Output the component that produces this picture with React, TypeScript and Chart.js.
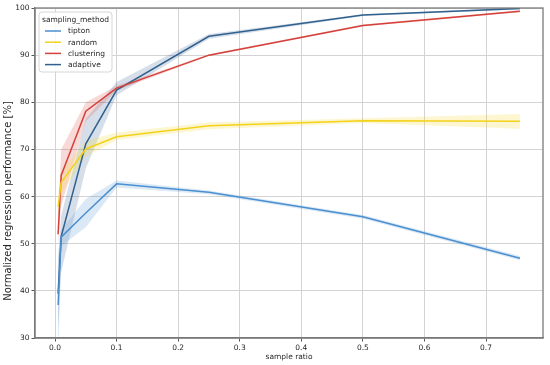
import React, { useEffect, useRef } from "react";
import { Chart, registerables } from "chart.js";

Chart.register(...registerables);

const sampleRatios = [0.005, 0.01, 0.05, 0.1, 0.25, 0.5, 0.755];
const xTickValues = [0, 0.1, 0.2, 0.3, 0.4, 0.5, 0.6, 0.7];
const yTickValues = [30, 40, 50, 60, 70, 80, 90, 100];

const methods = ["tipton", "random", "clustering", "adaptive"];
const methodColors = ["#4a8fd0", "#f3d21a", "#d5403b", "#30618f"];

const yTitle = "Normalized regression performance [%]";
const xTitle = "sample ratio";
const legendTitle = "sampling_method";

const tiptonMean = [37, 51.4, 56.5, 62.7, 60.9, 55.7, 46.9];
const tiptonLow = [24, 49.5, 53.5, 61.9, 60.5, 55.3, 46.5];
const tiptonHigh = [46, 53.0, 59.5, 63.4, 61.3, 56.1, 47.4];

const randomMean = [57.8, 63.0, 70.1, 72.7, 75.0, 76.1, 76.0];
const randomLow = [55, 60.5, 68.5, 72.0, 74.3, 75.6, 74.4];
const randomHigh = [60, 65.5, 71.8, 73.6, 75.7, 76.6, 77.5];

const clusteringMean = [52, 64.5, 78.1, 83.0, 90.0, 96.3, 99.3];
const clusteringLow = [50, 58, 76, 82.5, 89.8, 96.1, 99.1];
const clusteringHigh = [55, 70, 80, 83.5, 90.2, 96.5, 99.5];

const adaptiveMean = [39.4, 51.5, 71.2, 82.6, 94.0, 98.5, 99.9];
const adaptiveLow = [32, 44, 66, 81.5, 93.5, 98.3, 99.7];
const adaptiveHigh = [47, 56, 76.5, 84.3, 94.5, 98.7, 100.1];

const means = [tiptonMean, randomMean, clusteringMean, adaptiveMean];
const lows = [tiptonLow, randomLow, clusteringLow, adaptiveLow];
const highs = [tiptonHigh, randomHigh, clusteringHigh, adaptiveHigh];

const FONT = "'DejaVu Sans', sans-serif";

function hexA(hex: string, a: number) {
  const r = parseInt(hex.slice(1, 3), 16);
  const g = parseInt(hex.slice(3, 5), 16);
  const b = parseInt(hex.slice(5, 7), 16);
  return `rgba(${r},${g},${b},${a})`;
}

const pts = (ys: number[]) => sampleRatios.map((x, i) => ({ x, y: ys[i] }));

const framePlugin = {
  id: "frame",
  afterDatasetsDraw(chart: any) {
    const { ctx, chartArea: a } = chart;
    ctx.save();
    ctx.strokeStyle = "#7a7a7a";
    ctx.lineWidth = 1.3;
    ctx.strokeRect(a.left, a.top, a.right - a.left, a.bottom - a.top);
    ctx.restore();
  },
};

const yTitlePlugin = {
  id: "yTitle",
  afterDraw(chart: any) {
    const { ctx } = chart;
    ctx.save();
    ctx.translate(8, 201);
    ctx.rotate(-Math.PI / 2);
    ctx.font = `10px ${FONT}`;
    ctx.fillStyle = "#262626";
    ctx.textAlign = "center";
    ctx.textBaseline = "middle";
    ctx.fillText(yTitle, 0, 0);
    ctx.restore();
  },
};

const legendPlugin = {
  id: "mplLegend",
  afterDraw(chart: any) {
    const { ctx, chartArea: a } = chart;
    const x = a.left + 4;
    const y = a.top + 4;
    const w = 73;
    const h = 60;
    ctx.save();
    ctx.beginPath();
    ctx.roundRect(x, y, w, h, 3);
    ctx.fillStyle = "rgba(255,255,255,0.85)";
    ctx.fill();
    ctx.strokeStyle = "#d6d6d6";
    ctx.lineWidth = 1;
    ctx.stroke();
    ctx.font = `7.5px ${FONT}`;
    ctx.fillStyle = "#262626";
    ctx.textBaseline = "middle";
    ctx.textAlign = "center";
    ctx.fillText(legendTitle, x + w / 2, y + 8);
    ctx.textAlign = "left";
    methods.forEach((m, i) => {
      const ry = y + 19 + i * 11.2;
      ctx.strokeStyle = methodColors[i];
      ctx.lineWidth = 1.5;
      ctx.beginPath();
      ctx.moveTo(x + 6, ry);
      ctx.lineTo(x + 22, ry);
      ctx.stroke();
      ctx.fillStyle = "#262626";
      ctx.fillText(m, x + 29, ry + 0.5);
    });
    ctx.restore();
  },
};

export default function App() {
  const ref = useRef<HTMLCanvasElement>(null);
  useEffect(() => {
    document.body.style.margin = "0";
    const datasets: any[] = [];
    methods.forEach((m, i) => {
      datasets.push({
        label: m + "_low",
        data: pts(lows[i]),
        borderWidth: 0,
        pointRadius: 0,
        fill: false,
        order: 2,
      });
      datasets.push({
        label: m + "_high",
        data: pts(highs[i]),
        borderWidth: 0,
        pointRadius: 0,
        fill: "-1",
        backgroundColor: hexA(methodColors[i], 0.2),
        order: 2,
      });
    });
    methods.forEach((m, i) => {
      datasets.push({
        label: m,
        data: pts(means[i]),
        borderColor: methodColors[i],
        borderWidth: 1.5,
        pointRadius: 0,
        fill: false,
        order: 1,
      });
    });
    const chart = new Chart(ref.current!, {
      type: "line",
      data: { datasets },
      options: {
        animation: false,
        responsive: false,
        maintainAspectRatio: false,
        layout: { padding: { top: 8, right: 7, left: 0, bottom: 0 } },
        plugins: { legend: { display: false }, tooltip: { enabled: false } },
        scales: {
          x: {
            type: "linear",
            min: -0.0325,
            max: 0.7925,
            afterBuildTicks: (s: any) => {
              s.ticks = xTickValues.map((v) => ({ value: v }));
            },
            afterFit: (s: any) => {
              s.height = 27;
            },
            ticks: {
              font: { family: FONT, size: 7.5 },
              color: "#262626",
              padding: 2,
              callback: (v: any) => Number(v).toFixed(1),
            },
            grid: { color: "#d3d3d3", tickColor: "#555", tickLength: 3.5, lineWidth: 1 },
            border: { color: "#7a7a7a", width: 1.3 },
            title: {
              display: true,
              text: xTitle,
              font: { family: FONT, size: 7.5 },
              color: "#262626",
              padding: { top: 0, bottom: 3 },
            },
          },
          y: {
            min: 30,
            max: 100,
            afterBuildTicks: (s: any) => {
              s.ticks = yTickValues.map((v) => ({ value: v }));
            },
            afterFit: (s: any) => {
              s.width = 35;
            },
            ticks: {
              font: { family: FONT, size: 7.5 },
              color: "#262626",
              padding: 2,
            },
            grid: { color: "#d3d3d3", tickColor: "#555", tickLength: 3.5, lineWidth: 1 },
            border: { color: "#7a7a7a", width: 1.3 },
            title: { display: false },
          },
        },
      },
      plugins: [framePlugin, yTitlePlugin, legendPlugin],
    });
    return () => chart.destroy();
  }, []);
  return (
    <div style={{ width: 550, height: 365 }}>
      <canvas ref={ref} width={550} height={365} style={{ display: "block" }} />
    </div>
  );
}
